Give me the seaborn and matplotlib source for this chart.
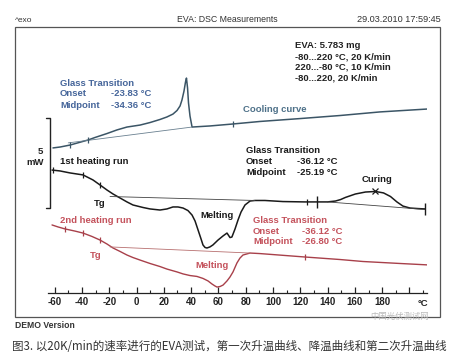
import numpy as np
import pandas as pd
import matplotlib
matplotlib.use("Agg")
import matplotlib.pyplot as plt
import seaborn as sns
from matplotlib.patches import Rectangle
from matplotlib.ticker import MultipleLocator

# ---------------- data (temperature °C, heat flow mW, offset) ----------------
cool_T = [-61.2, -56.0, -48.7, -40.7, -35.5, -30.4, -21.6, -14.3, -7.0, 2.6, 9.9, 17.2,
          22.3, 26.7, 29.7, 31.9, 33.3, 34.8, 35.9, 36.6, 37.4, 38.1, 39.2, 40.7, 53.8,
          70.7, 90.5, 119.8, 149.1, 178.4, 212.9]
cool_mW = [8.06, 8.11, 8.22, 8.39, 8.50, 8.64, 8.86, 9.06, 9.22, 9.33, 9.47, 9.64,
           9.78, 9.94, 10.14, 10.39, 10.72, 11.22, 11.72, 11.94, 11.39, 10.56, 9.83, 9.22, 9.28,
           9.39, 9.53, 9.69, 9.86, 10.06, 10.22]

heat1_T = [-61.9, -56.0, -48.7, -39.2, -31.9, -26.7, -21.6, -17.2, -12.1, -7.0, -2.6, 4.8,
           9.9, 17.2, 22.3, 26.7, 30.4, 34.1, 37.7, 40.7, 42.9, 45.1, 47.3, 48.7, 50.2, 51.6,
           53.8, 56.0, 59.7, 63.4, 66.3, 68.5, 69.9, 72.2, 74.4, 76.6, 79.5, 83.2, 86.8, 94.1,
           107.3, 123.4, 139.9, 145.8, 149.5, 153.1, 160.4, 167.8, 175.1, 181.0, 186.1, 190.8,
           195.2, 200.4, 206.2, 211.4]
heat1_mW = [6.83, 6.78, 6.67, 6.56, 6.28, 6.00, 5.72, 5.50, 5.28, 5.06, 4.89, 4.75,
            4.67, 4.61, 4.67, 4.78, 4.78, 4.72, 4.58, 4.33, 4.00, 3.50, 3.00, 2.67, 2.53, 2.50,
            2.56, 2.67, 2.94, 3.17, 3.33, 3.08, 3.11, 3.56, 4.06, 4.50, 4.89, 5.11, 5.14, 5.14,
            5.08, 5.06, 5.06, 5.11, 5.19, 5.31, 5.50, 5.61, 5.64, 5.56, 5.36, 5.06,
            4.83, 4.72, 4.69, 4.67]

heat2_T = [-61.9, -57.5, -52.4, -45.1, -39.2, -32.6, -26.7, -21.6, -17.2, -12.1, -7.0, -2.6,
           2.6, 9.9, 17.2, 22.3, 29.7, 34.1, 39.2, 44.3, 48.7, 52.4, 55.3, 57.5, 59.0, 61.2,
           63.4, 66.3, 68.5, 70.7, 73.6, 75.8, 78.0, 83.2, 90.5, 123.4, 149.1, 165.9, 193.0, 213.6]
heat2_mW = [3.78, 3.67, 3.56, 3.44, 3.33, 3.14, 2.94, 2.72, 2.50, 2.31, 2.11, 1.97,
            1.83, 1.64, 1.47, 1.33, 1.17, 1.06, 0.97, 0.92, 0.81, 0.67, 0.50, 0.39, 0.33, 0.36,
            0.44, 0.67, 0.89, 1.17, 1.67, 1.94, 2.11, 2.22, 2.19, 2.00, 1.86, 1.75, 1.64, 1.56]

# evaluation baselines
cool_base_T, cool_base_mW = [-50.0, 40.7], [8.34, 9.22]
heat1_base_T, heat1_base_mW = [-19.4, 86.8], [5.36, 5.14]
cure_base_T, cure_base_mW = [139.9, 211.4], [5.06, 4.64]
heat2_base_T, heat2_base_mW = [-19.4, 83.2], [2.56, 2.22]

# evaluation marks (temperatures)
cool_marks = [-48.7, -35.5, 70.7]
heat1_marks = [-61.2, -39.2, -26.7, 124.9]
heat1_big_marks = [132.2, 211.4]
cure_peak_T = [175.1]
heat2_marks = [-52.4, -39.2, -26.7, 123.4]

scale_bar_mW = 5.0
scale_bar_bottom = 4.72

x_ticks = list(range(-60, 201, 20))
x_ticklabels = [str(t) for t in range(-60, 181, 20)] + [""]

# ---------------- figure ----------------
sns.set_theme(style="white")
FONT = ["Liberation Sans", "DejaVu Sans"]
plt.rcParams["font.family"] = FONT

W, H = 474, 360
fig = plt.figure(figsize=(W / 100, H / 100), dpi=100)
fig.patch.set_facecolor("white")


def P(x, y):
    return x / W, 1 - y / H


ax_left, ax_right, ax_top, ax_bottom = 47.8, 427.2, 27, 293
ax = fig.add_axes([ax_left / W, 1 - ax_bottom / H, (ax_right - ax_left) / W, (ax_bottom - ax_top) / H])
ax.set_facecolor("none")
ax.set_xlim(-65, 213)
ax.set_ylim(0, (ax_bottom - ax_top) / 18.0)

C_COOL = "#3b5566"
C_BLUE = "#45659a"
C_BLACK = "#1a1a1a"
C_RED = "#a8404a"
C_REDT = "#c4525c"

df_cool = pd.DataFrame({"T": cool_T, "mW": cool_mW})
df_h1 = pd.DataFrame({"T": heat1_T, "mW": heat1_mW})
df_h2 = pd.DataFrame({"T": heat2_T, "mW": heat2_mW})

sns.lineplot(data=df_cool, x="T", y="mW", ax=ax, color=C_COOL, lw=1.1, sort=False, estimator=None)
sns.lineplot(data=df_h1, x="T", y="mW", ax=ax, color=C_BLACK, lw=1.1, sort=False, estimator=None)
sns.lineplot(data=df_h2, x="T", y="mW", ax=ax, color=C_RED, lw=1.0, sort=False, estimator=None)

ax.plot(cool_base_T, cool_base_mW, color="#6a8090", lw=0.6)
ax.plot(heat1_base_T, heat1_base_mW, color="#444444", lw=0.6)
ax.plot(cure_base_T, cure_base_mW, color="#444444", lw=0.6)
ax.plot(heat2_base_T, heat2_base_mW, color="#b87070", lw=0.6)

ax.plot(cool_marks, np.interp(cool_marks, cool_T, cool_mW), ls="none", marker="|", ms=5, mew=0.9, color=C_COOL)
ax.plot(heat1_marks, np.interp(heat1_marks, heat1_T, heat1_mW), ls="none", marker="|", ms=5, mew=0.9, color=C_BLACK)
ax.plot(heat1_big_marks, np.interp(heat1_big_marks, heat1_T, heat1_mW), ls="none", marker="|", ms=8, mew=1.0, color=C_BLACK)
ax.plot(cure_peak_T, np.interp(cure_peak_T, heat1_T, heat1_mW), ls="none", marker="x", ms=4, mew=0.9, color=C_BLACK)
ax.plot(heat2_marks, np.interp(heat2_marks, heat2_T, heat2_mW), ls="none", marker="|", ms=5, mew=0.9, color=C_RED)

# 5 mW scale bar
sb_x, sb_x2 = -63.4, -66.3
ax.plot([sb_x2, sb_x, sb_x, sb_x2],
        [scale_bar_bottom + scale_bar_mW, scale_bar_bottom + scale_bar_mW, scale_bar_bottom, scale_bar_bottom],
        color="#222222", lw=1.0, clip_on=False)

# axis styling
for s in ["left", "right", "top"]:
    ax.spines[s].set_visible(False)
ax.spines["bottom"].set_color("#222222")
ax.spines["bottom"].set_linewidth(0.9)
ax.set_xticks(x_ticks)
ax.set_xticklabels(x_ticklabels, fontsize=7, fontweight="bold", color="#222222")
ax.xaxis.set_minor_locator(MultipleLocator(10))
ax.tick_params(axis="x", which="both", direction="in", bottom=True, color="#222222", pad=3)
ax.tick_params(axis="x", which="major", length=4, width=0.9)
ax.tick_params(axis="x", which="minor", length=2.5, width=0.8)
ax.set_yticks([])
ax.set_xlabel("")
ax.set_ylabel("")

# outer frame
fig.add_artist(Rectangle(P(15, 317), 425 / W, 290 / H, transform=fig.transFigure,
                         fill=False, ec="#555555", lw=0.9))


def put(x, y, s, color, size=6.8, weight="bold", ha="left", family=None):
    fig.text(*P(x, y), s, color=color, fontsize=size, fontweight=weight, ha=ha, va="center",
             family=family or FONT)


# header
put(15, 20, "^exo", "#333333", size=6, weight="normal")
put(227, 20, "EVA: DSC Measurements", "#333333", size=6.3, weight="normal", ha="center")
put(441, 20, "29.03.2010 17:59:45", "#333333", size=6.6, weight="normal", ha="right")

# sample info
put(295, 46, "EVA: 5.783 mg", "#222222")
put(295, 57, "-80...220 °C, 20 K/min", "#222222")
put(295, 67, "220...-80 °C, 10 K/min", "#222222")
put(295, 78, "-80...220, 20 K/min", "#222222")

# cooling curve labels
put(60, 83, "Glass Transition", C_BLUE)
put(60, 94, "Onset", C_BLUE)
put(111, 94, "-23.83 °C", C_BLUE)
put(60, 105, "Midpoint", C_BLUE)
put(111, 105, "-34.36 °C", C_BLUE)
put(243, 110, "Cooling curve", "#4d7088")

# scale bar label
put(40, 151, "5", "#222222", ha="center")
put(35, 163, "mW", "#222222", ha="center")

# 1st heating labels
put(60, 162, "1st heating run", C_BLACK)
put(100, 204, "Tg", C_BLACK, ha="center")
put(200, 216, "Melting", C_BLACK)
put(246, 150, "Glass Transition", C_BLACK)
put(246, 161, "Onset", C_BLACK)
put(297, 161, "-36.12 °C", C_BLACK)
put(246, 172, "Midpoint", C_BLACK)
put(297, 172, "-25.19 °C", C_BLACK)
put(377, 180, "Curing", C_BLACK, ha="center")

# 2nd heating labels
put(60, 220, "2nd heating run", C_REDT)
put(96, 256, "Tg", C_REDT, ha="center")
put(195, 266, "Melting", C_REDT)
put(253, 220, "Glass Transition", C_REDT)
put(253, 231, "Onset", C_REDT)
put(302, 231, "-36.12 °C", C_REDT)
put(253, 242, "Midpoint", C_REDT)
put(302, 242, "-26.80 °C", C_REDT)

# axis unit
put(423, 303, "°C", "#222222", ha="center")

# footer
put(15, 326, "DEMO Version", "#333333", size=6.2)
put(400, 316, "中国光伏测试网", "#bbbbbb", size=6, weight="normal", ha="center",
    family=["Noto Sans CJK SC", "DejaVu Sans"])
put(12, 346, "图3. 以20K/min的速率进行的EVA测试，第一次升温曲线、降温曲线和第二次升温曲线", "#333333",
    size=8.3, weight="normal", family=["Noto Sans CJK SC", "DejaVu Sans"])

fig.savefig("out.png", dpi=100, facecolor="white")
